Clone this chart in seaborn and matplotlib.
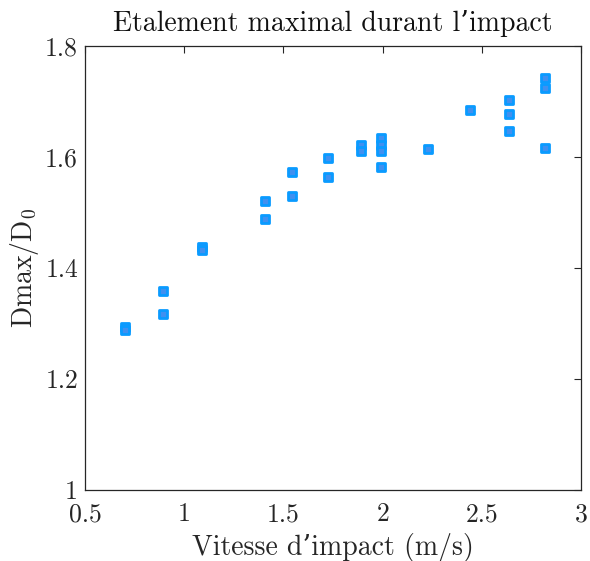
import matplotlib
matplotlib.use("Agg")
import matplotlib.pyplot as plt
import seaborn as sns
import pandas as pd

vitesse = [0.70, 0.70, 0.891, 0.891, 1.089, 1.089, 1.407, 1.407, 1.541, 1.541,
           1.724, 1.724, 1.889, 1.889, 1.991, 1.991, 1.991, 1.991, 2.226, 2.44,
           2.634, 2.634, 2.634, 2.816, 2.816, 2.816]
dmax_d0 = [1.294, 1.289, 1.359, 1.317, 1.438, 1.433, 1.521, 1.488, 1.573, 1.530,
           1.598, 1.564, 1.622, 1.611, 1.634, 1.622, 1.610, 1.582, 1.615, 1.685,
           1.703, 1.677, 1.646, 1.743, 1.724, 1.616]
x_ticks = [0.5, 1, 1.5, 2, 2.5, 3]
x_labels = ["0.5", "1", "1.5", "2", "2.5", "3"]
y_ticks = [1, 1.2, 1.4, 1.6, 1.8]
y_labels = ["1", "1.2", "1.4", "1.6", "1.8"]

df = pd.DataFrame({"v": vitesse, "d": dmax_d0})

sns.set_style("white")
plt.rcParams["font.family"] = ["cmr10", "DejaVu Serif"]
plt.rcParams["mathtext.fontset"] = "cm"
plt.rcParams["axes.unicode_minus"] = False

fig = plt.figure(figsize=(5.9, 5.61), dpi=100)
ax = fig.add_axes([0.144, 0.1266, 0.841, 0.7914])

sns.scatterplot(data=df, x="v", y="d", ax=ax, marker="s", s=36,
                color="#4090f0", edgecolor="#0a9bff", linewidth=2.0, zorder=3)

ax.set_xlim(0.5, 3)
ax.set_ylim(1, 1.8)
ax.set_xticks(x_ticks)
ax.set_xticklabels(x_labels)
ax.set_yticks(y_ticks)
ax.set_yticklabels(y_labels)
ax.tick_params(direction="in", length=5, width=0.8, colors="#262626",
               labelsize=18.5, top=True, right=True)
ax.tick_params(axis="x", pad=9)
ax.tick_params(axis="y", pad=5)
for lab in ax.get_xticklabels() + ax.get_yticklabels():
    lab.set_color("#262626")
for sp in ax.spines.values():
    sp.set_visible(True)
    sp.set_color("#262626")
    sp.set_linewidth(0.9)

ax.set_xlabel("Vitesse d\u2019impact (m/s)", fontsize=20, color="#262626", labelpad=5)
ax.set_ylabel(r"Dmax/D$_0$", fontsize=20, color="#262626", labelpad=3)
ax.set_title("Etalement maximal durant l\u2019impact", fontsize=20, color="#111111", pad=11)

fig.savefig("out.png", dpi=100)
